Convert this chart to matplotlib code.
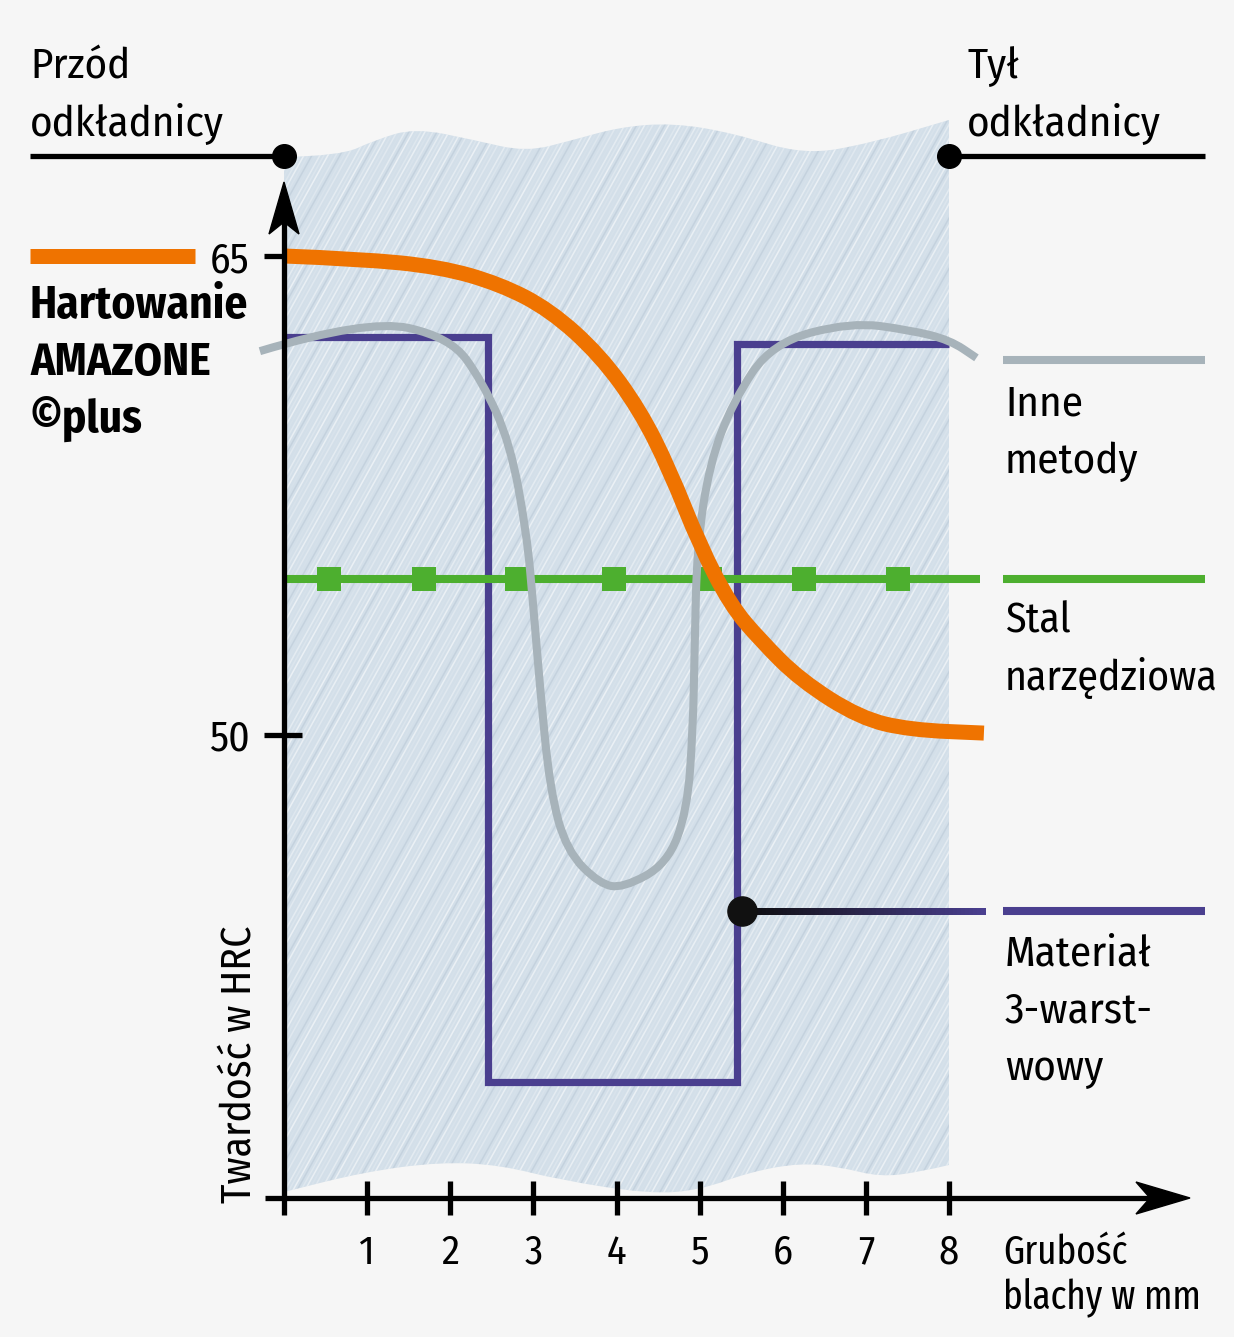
import numpy as np
import matplotlib
matplotlib.use('Agg')
import matplotlib.pyplot as plt
from matplotlib.path import Path
from matplotlib.patches import PathPatch, Polygon
from matplotlib.collections import LineCollection
from matplotlib.colors import to_rgb

FONT = ['Fira Sans Condensed', 'DejaVu Sans']
FONT_NARROW = ['Fira Sans Extra Condensed', 'Fira Sans Condensed', 'DejaVu Sans']
plt.rcParams['font.family'] = FONT

# --- data ---
x_ticks = [1, 2, 3, 4, 5, 6, 7, 8]
y_ticks = [50, 65]

# AMAZONE hardening (orange)
amazone_x = [0.00, 0.91, 1.88, 2.60, 3.20, 3.80, 4.28, 4.64, 5.00, 5.37, 5.73, 6.21, 6.93, 7.53, 8.42]
amazone_y = [65.00, 64.91, 64.66, 64.12, 63.31, 61.90, 60.18, 58.30, 55.95, 54.07, 52.97, 51.72, 50.53, 50.16, 50.06]

# other methods (grey)
other_x = [-0.29, 1.00, 2.00, 2.39, 2.72, 2.92, 3.00, 3.08, 3.20, 3.40, 3.80, 4.08,
           4.61, 4.85, 4.92, 4.94, 4.97, 5.12, 5.40, 5.87, 6.82, 7.53, 8.01, 8.33]
other_y = [62.02, 63.03, 62.46, 61.05, 59.14, 56.32, 54.01, 51.47, 48.28, 46.37, 45.33, 45.21,
           45.96, 47.62, 50.19, 52.75, 55.95, 58.49, 60.43, 62.28, 62.93, 62.68, 62.37, 61.81]

# tool steel (green)
tool_x = [0.0, 8.37]
tool_y = [54.88, 54.88]
tool_marker_x = [0.54, 1.68, 2.80, 3.97, 5.12, 6.26, 7.39]

# 3-layer material (purple), steps
layer_edges = [0.0, 2.45, 5.45, 8.0]
layer_vals = [62.46, 39.13, 62.24]

# --- pixel <-> data helpers (layout only) ---
PX0, PPX = 284, 83.125
PY65, PPY = 256, 31.933


def dx(px):
    return (px - PX0) / PPX


def dy(py):
    return 65 - (py - PY65) / PPY


def smooth_path(xs, ys):
    pts = np.column_stack([xs, ys])
    verts = [pts[0]]
    codes = [Path.MOVETO]
    for i in range(1, len(pts) - 1):
        verts += [pts[i], (pts[i] + pts[i + 1]) / 2]
        codes += [Path.CURVE3, Path.CURVE3]
    verts.append(pts[-1])
    codes.append(Path.LINETO)
    return verts, codes


ORANGE = '#ef7300'
GREY = '#a7b3ba'
PURPLE = '#4a3f8f'
GREEN = '#4daf2f'
BG = '#f6f6f6'

fig = plt.figure(figsize=(12.34, 13.37), dpi=100, facecolor=BG)
ax = fig.add_axes([0, 0, 1, 1])
ax.set_xlim(dx(0), dx(1234))
ax.set_ylim(dy(1337), dy(0))
ax.axis('off')

# background "steel" sheet with wavy edges
top_px = [(284, 157), (340, 156), (375, 140), (415, 128), (474, 140), (526, 152), (573, 140),
          (620, 127), (673, 123), (733, 133), (804, 155), (871, 143), (949, 120)]
bot_px = [(949, 1165), (920, 1172), (880, 1177), (840, 1167), (800, 1163), (750, 1172),
          (700, 1190), (650, 1194), (560, 1180), (500, 1165), (440, 1162), (364, 1172), (284, 1192)]
tv, tc = smooth_path([dx(p[0]) for p in top_px], [dy(p[1]) for p in top_px])
bv, bc = smooth_path([dx(p[0]) for p in bot_px], [dy(p[1]) for p in bot_px])
bc[0] = Path.LINETO
verts = tv + bv + [tv[0]]
codes = tc + bc + [Path.CLOSEPOLY]
sheet = PathPatch(Path(verts, codes), facecolor='#d3dfe9', edgecolor='none', zorder=1)
ax.add_patch(sheet)

# brushed streaks
segs, cols = [], []
alphas = [0.5, 0.12, 0.3, 0.05, 0.4, 0.2, 0.55, 0.08, 0.25]
for i, c in enumerate(np.arange(-750, 1000, 4)):
    segs.append([(dx(c), dy(1210)), (dx(c + 1100 / 1.8), dy(110))])
    a = alphas[i % len(alphas)]
    cols.append((1, 1, 1, a) if i % 7 else (0.55, 0.62, 0.7, 0.2))
lc = LineCollection(segs, colors=cols, linewidths=1.1, zorder=1.5)
ax.add_collection(lc)
lc.set_clip_path(sheet)

# curves
ax.stairs(layer_vals, layer_edges, baseline=None, color=PURPLE, linewidth=5.2, zorder=3)
ax.plot(tool_x, tool_y, color=GREEN, linewidth=5.8, solid_capstyle='butt', zorder=3.5)
ax.plot(tool_marker_x, [tool_y[0]] * len(tool_marker_x), linestyle='none', marker='s',
        markersize=17, color=GREEN, markeredgewidth=0, zorder=3.5)
gv, gc = smooth_path(other_x, other_y)
ax.add_patch(PathPatch(Path(gv, gc), facecolor='none', edgecolor=GREY, linewidth=5.8,
                       capstyle='butt', zorder=4))
ov, oc = smooth_path(amazone_x, amazone_y)
ax.add_patch(PathPatch(Path(ov, oc), facecolor='none', edgecolor=ORANGE, linewidth=10.8,
                       capstyle='butt', zorder=4.5))

# legend swatches
ax.plot([dx(30), dx(195)], [65, 65], color=ORANGE, linewidth=10.8, solid_capstyle='butt')
ax.plot([dx(1003), dx(1205)], [dy(360)] * 2, color=GREY, linewidth=5.8, solid_capstyle='butt')
ax.plot([dx(1003), dx(1205)], [tool_y[0]] * 2, color=GREEN, linewidth=5.8, solid_capstyle='butt')
ax.plot([dx(1003), dx(1205)], [dy(911)] * 2, color=PURPLE, linewidth=5.8, solid_capstyle='butt')

# pointer from the 3-layer line (black -> purple)
n = 60
gx = np.linspace(dx(742), dx(985), n + 1)
pr = np.array(to_rgb(PURPLE))
k = np.linspace(0, 1, n)[:, None]
gcol = (1 - k) * np.array([0.05, 0.05, 0.05]) + k * pr
gsegs = [[(gx[i], dy(911)), (min(gx[i + 1] + 0.03, gx[-1]), dy(911))] for i in range(n)]
ax.add_collection(LineCollection(gsegs, colors=gcol, linewidths=5.0, zorder=5,
                                 capstyle='butt', antialiaseds=False))
ax.plot(dx(742), dy(911), 'o', color='#111111', markersize=21, zorder=6)

# axes
AX_LW = 3.8
ax.plot([dx(265), dx(1150)], [dy(1198)] * 2, color='black', linewidth=AX_LW, zorder=6,
        solid_capstyle='butt')
ax.plot([0, 0], [dy(1198), dy(215)], color='black', linewidth=AX_LW, zorder=6,
        solid_capstyle='butt')
ax.add_patch(Polygon([(dx(1190), dy(1198)), (dx(1136), dy(1182)), (dx(1150), dy(1198)),
                      (dx(1136), dy(1214))], closed=True, color='black', zorder=6))
ax.add_patch(Polygon([(0, dy(182)), (dx(269), dy(234)), (0, dy(222)), (dx(299), dy(234))],
                     closed=True, color='black', zorder=6))
for t in x_ticks:
    ax.plot([t, t], [dy(1181), dy(1215)], color='black', linewidth=AX_LW, zorder=6,
            solid_capstyle='butt')
    ax.text(t, dy(1264), str(t), fontsize=29, ha='center', va='baseline')
ax.plot([0, 0], [dy(1198), dy(1215)], color='black', linewidth=AX_LW, zorder=6,
        solid_capstyle='butt')
ax.plot([dx(264), 0], [65, 65], color='black', linewidth=AX_LW, zorder=6, solid_capstyle='butt')
ax.plot([dx(264), dx(302)], [50, 50], color='black', linewidth=AX_LW, zorder=6,
        solid_capstyle='butt')
for t in y_ticks:
    ax.text(dx(250), dy(272) - 65 + t, str(t), fontsize=30, ha='right', va='baseline')

# front / back lines
ax.plot([dx(30), 0], [dy(156)] * 2, color='black', linewidth=AX_LW, solid_capstyle='butt',
        zorder=6)
ax.plot([8, dx(1205)], [dy(156)] * 2, color='black', linewidth=AX_LW, solid_capstyle='butt',
        zorder=6)
ax.plot([0, 8], [dy(156)] * 2, 'o', color='black', markersize=17, zorder=7)


# texts
def label(px, lines, baselines, size=31, weight='normal', family=FONT):
    for s, b in zip(lines, baselines):
        ax.text(dx(px), dy(b), s, fontsize=size, fontweight=weight, ha='left', va='baseline',
                family=family)


label(30, ['Przód', 'odkładnicy'], [78, 136])
label(967, ['Tył', 'odkładnicy'], [78, 136])
label(30, ['Hartowanie', 'AMAZONE', '©plus'], [318, 375, 432], size=32.5, weight='bold')
label(1005, ['Inne', 'metody'], [415, 473])
label(1005, ['Stal', 'narzędziowa'], [632, 690], size=30)
label(1005, ['Materiał', '3-warst-', 'wowy'], [965, 1023, 1080])
label(1003, ['Grubość', 'blachy w mm'], [1264, 1308], size=29, family=FONT_NARROW)
ax.text(dx(240), dy(1203), 'Twardość w HRC', fontsize=30, rotation=90, ha='center', va='bottom')

fig.savefig('out.png', dpi=100, facecolor=BG)
